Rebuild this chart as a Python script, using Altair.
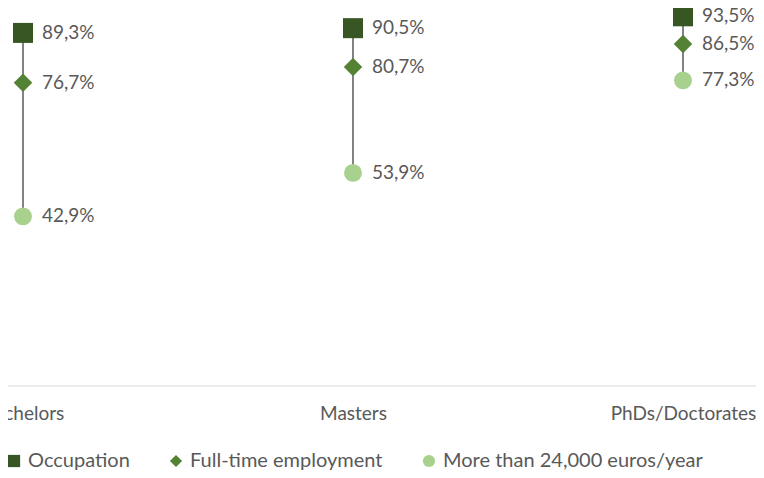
import altair as alt
import pandas as pd

categories = ["Bachelors", "Masters", "PhDs/Doctorates"]
series = ["Occupation", "Full-time employment", "More than 24,000 euros/year"]
occupation = [89.3, 90.5, 93.5]
fulltime = [76.7, 80.7, 86.5]
salary = [42.9, 53.9, 77.3]

colors = ["#375623", "#548235", "#A9D18E"]
shapes = ["square", "diamond", "circle"]
sizes = [400, 340, 320]

rows = []
for i, c in enumerate(categories):
    for s, vals in zip(series, [occupation, fulltime, salary]):
        rows.append({"cat": c, "series": s, "value": vals[i]})
df = pd.DataFrame(rows)

rng = pd.DataFrame({"cat": categories,
                    "lo": [min(a, b, c) for a, b, c in zip(occupation, fulltime, salary)],
                    "hi": [max(a, b, c) for a, b, c in zip(occupation, fulltime, salary)]})

FONT = "Lato"
TXT = "#595959"
W, H = 748, 378

xscale = alt.Scale(type="point", domain=categories, range=[15, 675], padding=0)
yscale = alt.Scale(domain=[0, 95.6], nice=False, zero=True)

x = alt.X("cat:N", scale=xscale, sort=categories,
          axis=alt.Axis(title=None, labelAngle=0, ticks=False, domain=False, grid=False,
                        labelFontSize=19, labelFont=FONT, labelColor=TXT, labelPadding=18,
                        labelOverlap=False, labelBound=False, labelFlush=False))

base_rule = alt.Chart(pd.DataFrame({"v": [0]})).mark_rule(color="#d9d9d9", strokeWidth=1.2).encode(
    y=alt.Y("v:Q", scale=yscale, axis=None),
    x=alt.value(0), x2=alt.value(W))

lines = alt.Chart(rng).mark_rule(color="#404040", strokeWidth=1.3).encode(
    x=x,
    y=alt.Y("lo:Q", scale=yscale, axis=None),
    y2="hi:Q")

legend = alt.Legend(title=None, orient="none", legendX=-4, legendY=443,
                    direction="horizontal", labelFontSize=20, labelFont=FONT,
                    labelColor=TXT, symbolSize=150, columnPadding=36,
                    labelOffset=4, symbolStrokeWidth=0, labelLimit=0)

point_layers = []
for s, sz in zip(series, sizes):
    point_layers.append(
        alt.Chart(df).transform_filter(alt.datum.series == s)
        .mark_point(filled=True, opacity=1, strokeWidth=0, size=sz).encode(
            x=x,
            y=alt.Y("value:Q", scale=yscale, axis=None),
            color=alt.Color("series:N", sort=series,
                            scale=alt.Scale(domain=series, range=colors), legend=legend),
            shape=alt.Shape("series:N", sort=series,
                            scale=alt.Scale(domain=series, range=shapes), legend=legend),
        )
    )

labels = alt.Chart(df).transform_calculate(
    lbl="replace(format(datum.value, '.1f'), '.', ',') + '%'"
).mark_text(align="left", baseline="middle", dx=19, fontSize=19, font=FONT, color=TXT).encode(
    x=x,
    y=alt.Y("value:Q", scale=yscale, axis=None),
    text="lbl:N")

chart = alt.layer(base_rule, lines, *point_layers, labels).properties(
    width=W, height=H,
    autosize=alt.AutoSizeParams(type="none"),
    padding={"left": 0, "top": 0, "right": 0, "bottom": 84},
).configure_view(stroke=None)

chart.save("out.html", embed_options={"renderer": "svg", "actions": False})
